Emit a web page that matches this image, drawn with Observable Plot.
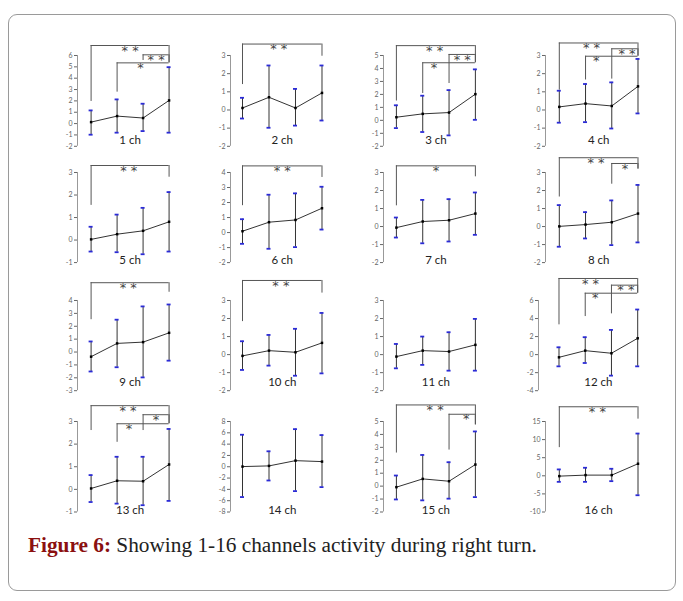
<!DOCTYPE html>
<html><head><meta charset="utf-8">
<script src="https://cdn.jsdelivr.net/npm/d3@7"></script>
<script src="https://cdn.jsdelivr.net/npm/@observablehq/plot@0.6"></script>
<style>
body{margin:0;background:#fff;}
#wrap{position:relative;width:683px;height:601px;overflow:hidden;font-family:Lato,sans-serif;}
#frame{position:absolute;left:8px;top:14px;width:668px;height:577px;border:1px solid #9a9a9a;border-radius:9px;box-sizing:border-box;}
.panel{position:absolute;}
#caption{position:absolute;left:28px;top:533px;font-family:"Liberation Serif",serif;font-size:21.3px;color:#222;white-space:nowrap;}
#caption b{color:#8b1010;}
</style></head><body>
<div id="wrap"><div id="frame"></div><div id="panels"></div><div id="caption"><b>Figure 6:</b> Showing 1-16 channels activity during right turn.</div></div>
<script>
const channels = ["1 ch","2 ch","3 ch","4 ch","5 ch","6 ch","7 ch","8 ch","9 ch","10 ch","11 ch","12 ch","13 ch","14 ch","15 ch","16 ch"];
const conditions = [1, 2, 3, 4];
const means = [
  [0.13,0.66,0.49,2.04],[0.11,0.70,0.11,0.94],[0.24,0.50,0.60,2.02],[0.17,0.35,0.22,1.30],
  [0.03,0.26,0.41,0.81],[0.09,0.69,0.84,1.62],[-0.06,0.28,0.35,0.72],[0.01,0.11,0.24,0.72],
  [-0.36,0.67,0.77,1.49],[-0.07,0.22,0.13,0.65],[-0.11,0.22,0.17,0.54],[-0.30,0.44,0.15,1.81],
  [0.04,0.38,0.36,1.10],[0.03,0.15,1.08,0.91],[-0.08,0.56,0.38,1.67],[-0.09,0.19,0.19,3.33]
];
const upper = [
  [1.16,2.13,1.75,4.97],[0.67,2.45,1.16,2.45],[1.16,1.90,2.33,3.93],[1.06,1.43,1.52,2.81],
  [0.59,1.13,1.43,2.13],[0.89,2.52,2.61,3.05],[0.50,1.48,1.52,1.89],[1.19,0.80,1.45,2.31],
  [0.82,2.51,3.54,3.69],[0.74,1.09,1.43,2.31],[0.59,1.00,1.24,1.98],[0.81,1.93,2.74,5.00],
  [0.63,1.44,1.44,2.67],[5.66,2.73,6.65,5.60],[0.82,2.41,1.85,4.23],[1.76,2.22,1.94,11.67]
];
const lower = [
  [-0.98,-0.80,-0.66,-0.80],[-0.47,-0.98,-0.86,-0.58],[-0.60,-0.90,-1.16,0.04],[-0.70,-0.67,-1.02,-0.19],
  [-0.51,-0.54,-0.63,-0.51],[-0.75,-1.08,-0.97,0.20],[-0.61,-0.93,-0.83,-0.46],[-1.12,-0.66,-1.03,-0.88],
  [-1.51,-1.18,-1.97,-0.67],[-0.85,-0.61,-1.17,-1.04],[-0.76,-0.57,-0.89,-0.89],[-1.30,-0.93,-2.33,-1.30],
  [-0.56,-0.63,-0.70,-0.51],[-5.36,-2.43,-4.31,-3.60],[-1.03,-1.10,-0.97,-0.85],[-1.67,-1.67,-1.48,-5.37]
];
const yMin = [-2,-2,-2,-2,-1,-2,-2,-2,-3,-2,-2,-4,-1,-8,-2,-10];
const yMax = [6,3,5,3,3,4,3,3,4,3,3,6,3,8,5,15];
const yStep = [1,1,1,1,1,1,1,1,1,1,1,2,1,2,1,5];
// significance brackets: channel, from, to, level, left leg end, right leg end, label, label x
const brackets = [
  [1,1,4,6.88,1.95,5.35,"**",2.5],[1,3,4,6.06,5.56,5.35,"**",3.5],[1,2,4,5.35,2.77,5.35,"*",2.9],
  [2,1,4,3.63,1.40,2.96,"**",2.37],
  [3,1,4,5.76,1.49,4.44,"**",2.45],[3,3,4,5.08,2.84,4.44,"**",3.5],[3,2,4,4.44,2.07,4.44,"*",2.43],
  [4,1,4,3.69,1.09,2.96,"**",2.23],[4,3,4,3.37,1.70,2.96,"**",3.58],[4,2,4,2.96,1.65,2.96,"*",2.41],
  [5,1,4,3.31,1.54,2.79,"**",2.45],
  [6,1,4,4.44,1.79,3.67,"**",2.5],
  [7,1,4,3.37,1.15,2.76,"*",2.5],
  [8,1,4,3.82,1.64,3.19,"**",2.4],[8,3,4,3.50,2.35,3.19,"*",3.5],
  [9,1,4,5.38,2.51,4.64,"**",2.43],
  [10,1,4,4.11,1.83,3.41,"**",2.45],
  [12,1,4,8.44,3.30,6.81,"**",2.2],[12,3,4,7.70,4.52,6.81,"**",3.55],[12,2,4,6.81,4.22,6.81,"*",2.38],
  [13,1,4,3.70,2.60,2.90,"**",2.42],[13,3,4,3.30,2.60,2.90,"*",3.5],[13,2,4,2.90,2.08,2.90,"*",2.46],
  [15,1,4,6.28,2.56,4.74,"**",2.47],[15,3,4,5.56,2.79,4.74,"*",3.65],
  [16,1,4,19.07,7.78,15.65,"**",2.45]
];

// layout of the 4x4 grid (pixels)
const colAxis = [76.7, 230, 382.5, 545];
const colFirst = [90.3, 242, 395.4, 558.8];
const colLast = [168.3, 321.5, 474.4, 637.5];
const rowTop = [55.3, 171.8, 300, 421];
const rowBottom = [146.1, 261.9, 390.2, 511.5];
const rowLabelDy = [-6, -2, -8.5, -2];
const axisOverride = {11: 538.3};

const host = document.getElementById("panels");
channels.forEach((name, i) => {
  const r = Math.floor(i / 4), c = i % 4;
  const ax = axisOverride[i] ?? colAxis[c];
  const ML = 24, MT = 32, MB = 10, MR = 14;
  const left = ax - ML, top = rowTop[r] - MT;
  const width = colLast[c] - left + MR;
  const height = rowBottom[r] - top + MB;
  const xr = [colFirst[c] - left, colLast[c] - left];
  const yr = [rowBottom[r] - top, rowTop[r] - top];
  const step = (xr[1] - xr[0]) / 3;
  const axisX = 1 - (xr[0] - ML) / step;
  const capW = 2 / step;
  const pts = conditions.map((k, j) => ({k, m: means[i][j], lo: lower[i][j], hi: upper[i][j]}));
  const caps = pts.flatMap(p => [{k: p.k, v: p.lo}, {k: p.k, v: p.hi}]);
  const br = brackets.filter(b => b[0] === i + 1).map(b => ({a: b[1], b: b[2], level: b[3], le: b[4], re: b[5], label: b[6], lx: b[7]}));
  const ticks = d3.range(yMin[i], yMax[i] + 1e-9, yStep[i]);
  const chart = Plot.plot({
    width, height, marginLeft: ML, marginTop: MT, marginBottom: MB, marginRight: MR,
    x: {domain: [1, 4], range: xr, axis: null},
    y: {domain: [yMin[i], yMax[i]], range: yr, axis: null},
    style: {background: "transparent", overflow: "visible", fontFamily: "Lato, sans-serif"},
    marks: [
      Plot.axisY({ticks, tickSize: 3, tickPadding: 2, fontSize: 7, tickFormat: d => String(d), label: null, color: "#666"}),
      Plot.ruleX([axisX], {y1: yMin[i], y2: yMax[i], stroke: "#999"}),
      Plot.ruleX(pts, {x: "k", y1: "lo", y2: "hi", stroke: "#333"}),
      Plot.ruleY(caps, {y: "v", x1: d => d.k - capW, x2: d => d.k + capW, stroke: "#2b2bd6", strokeWidth: 1.8}),
      Plot.line(pts, {x: "k", y: "m", stroke: "#333", strokeWidth: 1}),
      Plot.dot(pts, {x: "k", y: "m", symbol: "square", r: 1.4, fill: "#000"}),
      Plot.ruleY(br, {y: "level", x1: "a", x2: "b", stroke: "#555"}),
      Plot.ruleX(br, {x: "a", y1: "le", y2: "level", stroke: "#555"}),
      Plot.ruleX(br, {x: "b", y1: "re", y2: "level", stroke: "#555"}),
      Plot.text(br, {x: "lx", y: "level", text: d => d.label.split("").join(" "), lineAnchor: "top", dy: 0, fontSize: 13, fontFamily: "DejaVu Sans", fill: "#444"}),
      Plot.text([name], {x: 2.5, frameAnchor: "bottom", dy: rowLabelDy[r], text: d => d, fontSize: 11.5, fill: "#222", lineAnchor: "middle"})
    ]
  });
  chart.classList.add("panel");
  chart.style.left = left + "px";
  chart.style.top = top + "px";
  host.appendChild(chart);
});
</script>
</body></html>
